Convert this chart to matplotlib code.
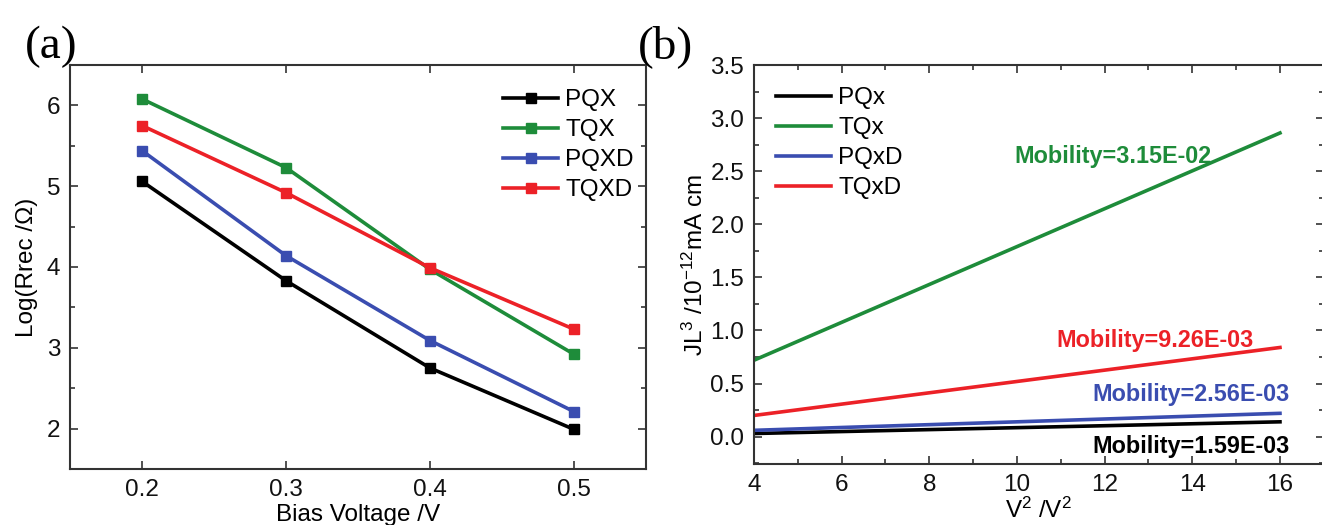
import matplotlib
matplotlib.use("Agg")
import matplotlib.pyplot as plt
from matplotlib.ticker import MultipleLocator

plt.rcParams['font.family'] = ['Liberation Sans', 'DejaVu Sans']
plt.rcParams['mathtext.fontset'] = 'custom'
plt.rcParams['mathtext.rm'] = 'Liberation Sans'
plt.rcParams['mathtext.it'] = 'Liberation Sans:italic'

# ---- Panel (a) data ----
bias_voltage = [0.2, 0.3, 0.4, 0.5]
a_labels = ["PQX", "TQX", "PQXD", "TQXD"]
pqx = [5.06, 3.83, 2.75, 1.99]
tqx = [6.08, 5.23, 3.97, 2.92]
pqxd = [5.44, 4.14, 3.09, 2.21]
tqxd = [5.75, 4.92, 3.99, 3.23]

# ---- Panel (b) data ----
v2 = [4, 16]
b_labels = ["PQx", "TQx", "PQxD", "TQxD"]
b_pqx = [0.03, 0.14]
b_tqx = [0.72, 2.86]
b_pqxd = [0.06, 0.22]
b_tqxd = [0.20, 0.84]
mobility_texts = ["Mobility=1.59E-03", "Mobility=3.15E-02",
                  "Mobility=2.56E-03", "Mobility=9.26E-03"]

colors = ["#000000", "#1e8c3a", "#3a4db0", "#ec2127"]
spine_c = "#333333"
FS = 17.5

fig = plt.figure(figsize=(13.22, 5.25), dpi=100)

def style(ax):
    for s in ax.spines.values():
        s.set_color(spine_c)
        s.set_linewidth(1.5)
    ax.tick_params(which='both', direction='in', top=True, right=True,
                   colors=spine_c, labelcolor='#111111', labelsize=FS, width=1.2)
    ax.tick_params(which='major', length=6, pad=7)
    ax.tick_params(which='minor', length=3.5)

leg_kw = dict(frameon=False, fontsize=FS, handlelength=2.26, handletextpad=0.3,
              labelspacing=0.33, borderaxespad=0, borderpad=0, loc='upper left')

# Panel (a)
axa = fig.add_axes([70/1322, 1-469/525, (646-70)/1322, (469-65)/525])
for ys, lab, c in zip([pqx, tqx, pqxd, tqxd], a_labels, colors):
    axa.plot(bias_voltage, ys, '-s', color=c, lw=2.6, ms=6.5, label=lab)
axa.set_xlim(0.15, 0.55)
axa.set_ylim(1.5, 6.5)
axa.xaxis.set_major_locator(MultipleLocator(0.1))
axa.yaxis.set_major_locator(MultipleLocator(1))
axa.yaxis.set_minor_locator(MultipleLocator(0.5))
style(axa)
axa.set_xlabel("Bias Voltage /V", fontsize=FS, labelpad=2)
axa.set_ylabel("Log(Rrec /Ω)", fontsize=FS, labelpad=6)
axa.legend(bbox_to_anchor=(0.752, 0.94), **leg_kw)

# Panel (b)
axb = fig.add_axes([754/1322, 1-464.3/525, (1323.8-754)/1322, (464.3-65)/525])
for ys, lab, c in zip([b_pqx, b_tqx, b_pqxd, b_tqxd], b_labels, colors):
    axb.plot(v2, ys, '-', color=c, lw=2.6, label=lab)
axb.set_xlim(4, 17)
axb.set_ylim(-0.26, 3.5)
axb.xaxis.set_major_locator(MultipleLocator(2))
axb.xaxis.set_minor_locator(MultipleLocator(1))
axb.yaxis.set_major_locator(MultipleLocator(0.5))
axb.yaxis.set_minor_locator(MultipleLocator(0.25))
axb.yaxis.set_major_formatter(matplotlib.ticker.FormatStrFormatter('%.1f'))
style(axb)
axb.set_xlabel("V$^2$ /V$^2$", fontsize=FS, labelpad=1)
axb.set_ylabel("JL$^3$ /10$^{-12}$mA cm", fontsize=FS, labelpad=2)
axb.legend(bbox_to_anchor=(0.0386, 0.944), **leg_kw)

text_pos = [(11.71, -0.09), (9.95, 2.64), (11.73, 0.40), (10.91, 0.91)]
for t, (x, y), c in zip(mobility_texts, text_pos, colors):
    axb.text(x, y, t, color=c, fontsize=16.8, fontweight='bold',
             ha='left', va='center')

fig.text(25/1322, 1-47/525, "(a)", family='Liberation Serif', fontsize=34,
         ha='left', va='center')
fig.text(638/1322, 1-47/525, "(b)", family='Liberation Serif', fontsize=34,
         ha='left', va='center')

fig.savefig("out.png", dpi=100)
